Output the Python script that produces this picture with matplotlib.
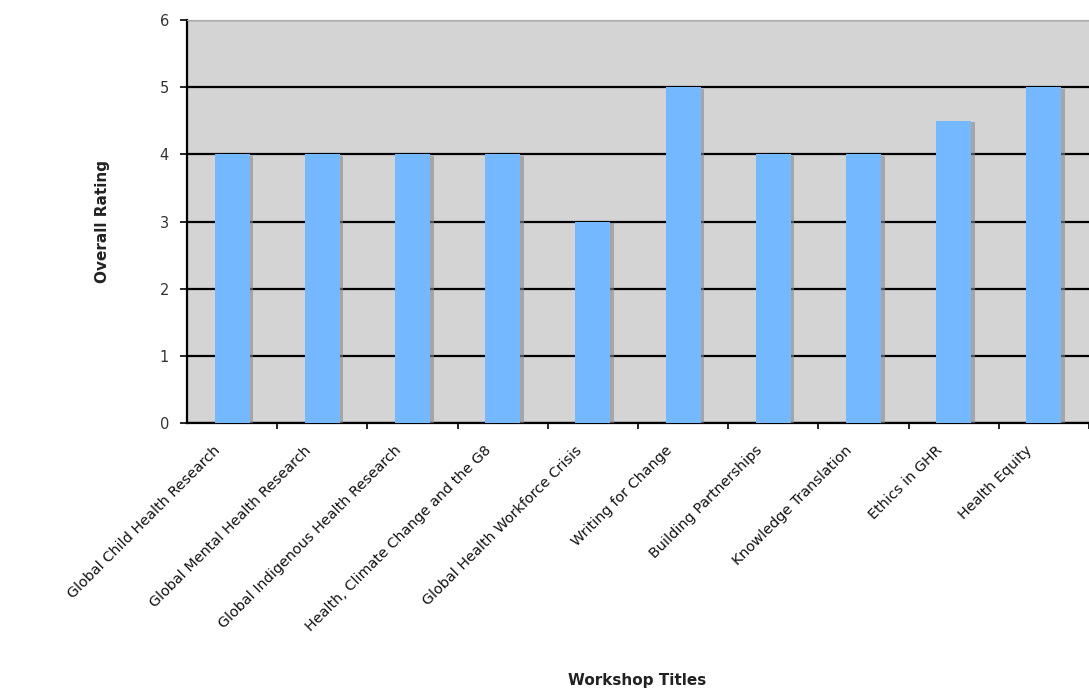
import matplotlib
matplotlib.use("Agg")
import matplotlib.pyplot as plt
import matplotlib.patheffects as pe
import numpy as np

workshops = ["Global Child Health Research", "Global Mental Health Research",
             "Global Indigenous Health Research", "Health, Climate Change and the G8",
             "Global Health Workforce Crisis", "Writing for Change",
             "Building Partnerships", "Knowledge Translation",
             "Ethics in GHR", "Health Equity"]
ratings = [4, 4, 4, 4, 3, 5, 4, 4, 4.5, 5]
y_ticks = [0, 1, 2, 3, 4, 5, 6]

fig = plt.figure(figsize=(10.89, 6.94), dpi=100)
ax = fig.add_axes([187 / 1089, 1 - 423 / 694, 902 / 1089, 403 / 694])
ax.set_facecolor("#d4d4d4")

x = np.arange(len(workshops))
bars = ax.bar(x, ratings, width=0.39, color="#74b8ff", zorder=3)
for b in bars:
    b.set_path_effects([pe.SimplePatchShadow(offset=(2.5, -1), shadow_rgbFace="#888888", alpha=0.6),
                        pe.Normal()])

ax.set_xlim(-0.5, len(workshops) - 0.5)
ax.set_ylim(0, 6)
ax.set_yticks(y_ticks)
ax.yaxis.grid(True, color="black", linewidth=1.6, zorder=1)
ax.set_axisbelow(True)

# labels sit a little left of the bar centres in the original
ax.set_xticks(x - 0.15)
ax.set_xticklabels(workshops, rotation=45, ha="right", va="center",
                   rotation_mode="anchor", fontsize=10.4, color="#111111")
ax.set_xticks(x + 0.5, minor=True)
ax.tick_params(axis="x", which="major", length=0, pad=18)
ax.tick_params(axis="x", which="minor", length=4, width=1.2, color="black")
ax.tick_params(axis="y", length=5, width=1.2, labelsize=10.5, pad=8, colors="black")
ax.tick_params(axis="y", labelcolor="#333333")

for side in ["left", "bottom"]:
    ax.spines[side].set_color("black")
    ax.spines[side].set_linewidth(1.6)
ax.spines["top"].set_color("#aaaaaa")
ax.spines["right"].set_visible(False)

ax.set_ylabel("Overall Rating", fontsize=11, fontweight="bold", labelpad=36, color="#222222")
fig.text(637 / 1089, 1 - 680 / 694, "Workshop Titles", fontsize=11, fontweight="bold",
         ha="center", va="center", color="#222222")

fig.savefig("out.png", dpi=100)
